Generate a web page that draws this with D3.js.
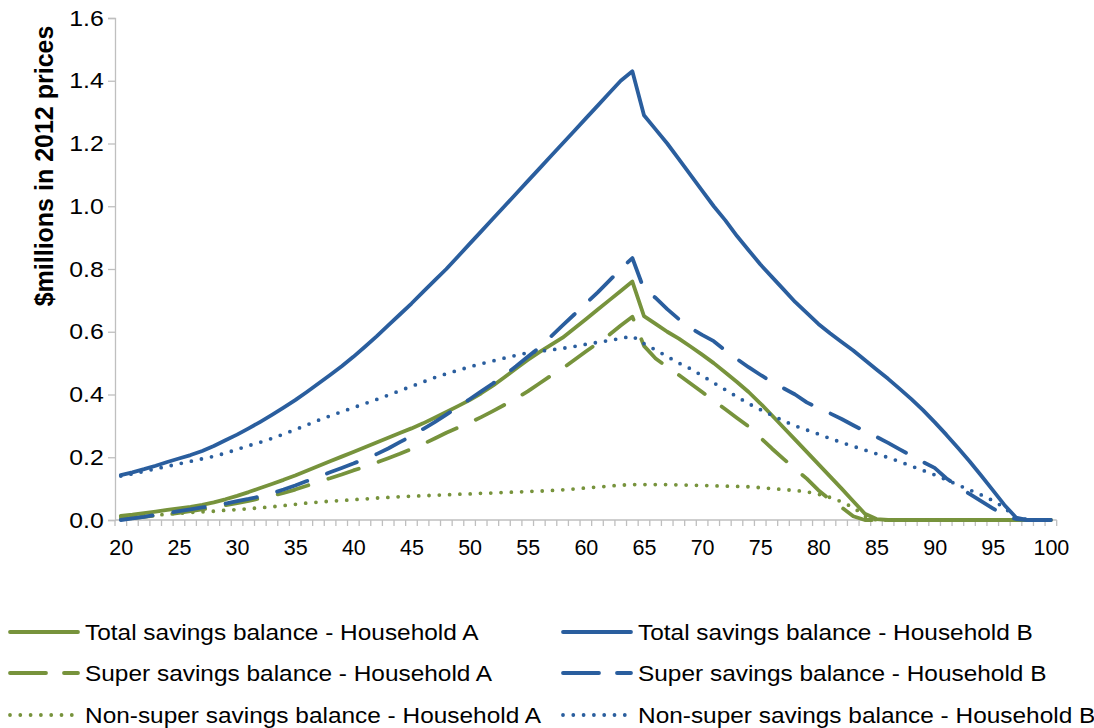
<!DOCTYPE html>
<html>
<head>
<meta charset="utf-8">
<script src="https://cdn.jsdelivr.net/npm/d3@7/dist/d3.min.js"></script>
<style>
  html, body { margin: 0; padding: 0; background: #fff; }
  svg { display: block; }
  text { font-family: "Liberation Sans", Arial, sans-serif; fill: #000; }
</style>
</head>
<body>
<svg id="chart" width="1094" height="728"></svg>
<script>
// ---- Data ----
const ages = d3.range(20, 101);
const xTickLabels = [20, 25, 30, 35, 40, 45, 50, 55, 60, 65, 70, 75, 80, 85, 90, 95, 100];
const yTicks = [0, 0.2, 0.4, 0.6, 0.8, 1.0, 1.2, 1.4, 1.6];
const yTitle = "$millions in 2012 prices";

const totalA = [0.013,0.017,0.022,0.027,0.032,0.037,0.042,0.048,0.056,0.066,
  0.077,0.089,0.102,0.115,0.128,0.142,0.157,0.172,0.187,0.202,
  0.217,0.232,0.247,0.262,0.277,0.292,0.308,0.326,0.344,0.363,
  0.382,0.404,0.428,0.455,0.483,0.51,0.535,0.558,0.581,0.61,
  0.64,0.67,0.70,0.73,0.76,0.65,0.625,0.60,0.578,0.553,
  0.527,0.50,0.47,0.44,0.408,0.372,0.334,0.295,0.256,0.217,
  0.178,0.139,0.10,0.06,0.02,0.003,0,0,0,0,
  0,0,0,0,0,0,0,0,0,0,0];
const superA = [0.003,0.006,0.01,0.014,0.018,0.023,0.028,0.034,0.04,0.047,
  0.054,0.061,0.069,0.077,0.086,0.097,0.109,0.122,0.133,0.145,
  0.158,0.17,0.183,0.197,0.211,0.226,0.242,0.26,0.278,0.294,
  0.31,0.328,0.347,0.367,0.388,0.41,0.435,0.46,0.483,0.51,
  0.537,0.563,0.59,0.62,0.648,0.555,0.515,0.488,0.462,0.435,
  0.408,0.38,0.353,0.325,0.298,0.263,0.228,0.195,0.163,0.132,
  0.095,0.065,0.04,0.012,0,0,0,0,0,0,
  0,0,0,0,0,0,0,0,0,0,0];
const nonSuperA = [0.01,0.012,0.014,0.016,0.018,0.021,0.024,0.026,0.028,0.031,
  0.033,0.036,0.039,0.042,0.046,0.05,0.054,0.057,0.06,0.062,
  0.065,0.067,0.07,0.072,0.074,0.076,0.077,0.079,0.08,0.082,
  0.083,0.085,0.086,0.088,0.089,0.091,0.092,0.094,0.096,0.099,
  0.102,0.105,0.108,0.111,0.113,0.113,0.113,0.113,0.112,0.111,
  0.11,0.109,0.108,0.107,0.106,0.103,0.10,0.097,0.094,0.09,
  0.082,0.072,0.058,0.04,0.012,0,0,0,0,0,
  0,0,0,0,0,0,0,0,0,0,0];
const totalB = [0.143,0.152,0.162,0.173,0.185,0.196,0.207,0.22,0.236,0.254,
  0.272,0.292,0.313,0.335,0.358,0.382,0.408,0.435,0.462,0.49,
  0.52,0.552,0.585,0.62,0.655,0.69,0.727,0.764,0.80,0.84,
  0.88,0.92,0.96,1.0,1.04,1.08,1.12,1.16,1.2,1.24,
  1.28,1.32,1.36,1.40,1.43,1.29,1.245,1.2,1.15,1.1,
  1.05,1.0,0.955,0.905,0.86,0.815,0.775,0.735,0.695,0.66,
  0.625,0.595,0.567,0.54,0.51,0.48,0.45,0.418,0.385,0.35,
  0.312,0.272,0.23,0.187,0.142,0.095,0.048,0.008,0,0,0];
const superB = [0.0,0.005,0.01,0.016,0.022,0.028,0.034,0.04,0.046,0.052,
  0.06,0.067,0.075,0.085,0.097,0.11,0.124,0.138,0.152,0.166,
  0.18,0.195,0.21,0.228,0.248,0.268,0.29,0.312,0.336,0.36,
  0.385,0.41,0.435,0.462,0.49,0.52,0.55,0.585,0.62,0.655,
  0.69,0.725,0.762,0.80,0.835,0.735,0.708,0.672,0.64,0.612,
  0.59,0.57,0.54,0.513,0.487,0.463,0.44,0.42,0.40,0.375,
  0.357,0.34,0.322,0.302,0.283,0.265,0.246,0.225,0.205,0.185,
  0.166,0.133,0.108,0.083,0.06,0.037,0.015,0.003,0,0,0];
const nonSuperB = [0.14,0.147,0.155,0.163,0.171,0.179,0.187,0.195,0.203,0.213,
  0.225,0.237,0.248,0.26,0.274,0.288,0.303,0.318,0.332,0.345,
  0.358,0.371,0.384,0.398,0.412,0.426,0.44,0.454,0.466,0.477,
  0.488,0.498,0.507,0.516,0.525,0.533,0.538,0.542,0.547,0.553,
  0.56,0.566,0.572,0.579,0.586,0.562,0.542,0.521,0.50,0.482,
  0.46,0.437,0.415,0.393,0.371,0.352,0.334,0.316,0.30,0.287,
  0.274,0.26,0.247,0.235,0.223,0.211,0.199,0.186,0.172,0.158,
  0.144,0.128,0.112,0.096,0.08,0.062,0.04,0.005,0.002,0,0];

const seriesNames = [
  "Total savings balance - Household A",
  "Super savings balance - Household A",
  "Non-super savings balance - Household A",
  "Total savings balance - Household B",
  "Super savings balance - Household B",
  "Non-super savings balance - Household B"
];
const seriesValues = [totalA, superA, nonSuperA, totalB, superB, nonSuperB];

// ---- Styles ----
const GREEN = "#77933c", BLUE = "#2a5e9e", AXIS = "#bfbfbf";
const styles = [
  {color: GREEN, dash: null},
  {color: GREEN, dash: "32,21"},
  {color: GREEN, dash: "0,10.3"},
  {color: BLUE, dash: null},
  {color: BLUE, dash: "32,21"},
  {color: BLUE, dash: "0,10.3"}
];
const LW = 3.8;

const svg = d3.select("#chart");
const x0 = 115, x1 = 1056.7, yTop = 18, yBot = 520;
const x = d3.scalePoint().domain(ages).range([x0, x1]).padding(0.5);
const xb = d3.scaleBand().domain(ages).range([x0, x1]);
const y = d3.scaleLinear().domain([0, 1.6]).range([yBot, yTop]);

// Y axis
const yAxis = svg.append("g").attr("transform", `translate(${x0},0)`)
  .call(d3.axisLeft(y).tickValues(yTicks).tickFormat(d3.format(".1f")).tickSize(7).tickPadding(5));
yAxis.select(".domain").attr("stroke", AXIS).attr("stroke-width", 1.3);
yAxis.selectAll(".tick line").attr("stroke", AXIS).attr("stroke-width", 1.3);
yAxis.selectAll(".tick text").style("font-size", "22px").attr("fill", "#000")
  .attr("x", -10).attr("transform", "scale(1.13,1)");

// X axis line and ticks at category boundaries
const xg = svg.append("g");
xg.append("line").attr("x1", x0).attr("x2", x1).attr("y1", yBot).attr("y2", yBot)
  .attr("stroke", AXIS).attr("stroke-width", 1.3);
const bounds = ages.map(a => xb(a)).concat([xb(ages[ages.length - 1]) + xb.bandwidth()]);
xg.selectAll("line.tk").data(bounds).enter().append("line").attr("class", "tk")
  .attr("x1", d => d).attr("x2", d => d).attr("y1", yBot).attr("y2", yBot + 6)
  .attr("stroke", AXIS).attr("stroke-width", 1.3);
const xAxis = svg.append("g").attr("transform", `translate(0,${yBot})`)
  .call(d3.axisBottom(x).tickValues(xTickLabels).tickSize(0).tickPadding(20));
xAxis.select(".domain").remove();
xAxis.selectAll(".tick text").style("font-size", "21.5px").attr("fill", "#000");

// Y title
svg.append("text")
  .attr("transform", "translate(44,166) rotate(-90)")
  .attr("text-anchor", "middle")
  .attr("dy", "0.35em")
  .style("font-size", "25px").style("font-weight", "bold")
  .text(yTitle);

// Lines
const line = d3.line().x((d, i) => x(ages[i])).y(d => y(d));
seriesValues.forEach((vals, i) => {
  svg.append("path").datum(vals)
    .attr("d", line)
    .attr("fill", "none")
    .attr("stroke", styles[i].color)
    .attr("stroke-width", LW)
    .attr("stroke-linecap", "round")
    .attr("stroke-linejoin", "round")
    .attr("stroke-dasharray", styles[i].dash);
});

// Legend
const legX = [10, 563], legY = [632, 673, 715];
seriesNames.forEach((name, i) => {
  const col = i < 3 ? 0 : 1, row = i % 3;
  const g = svg.append("g").attr("transform", `translate(${legX[col]},${legY[row]})`);
  g.append("line").attr("x1", 0).attr("x2", 68).attr("y1", 0).attr("y2", 0)
    .attr("stroke", styles[i].color).attr("stroke-width", LW)
    .attr("stroke-linecap", "round")
    .attr("stroke-dasharray", styles[i].dash ? (row === 1 ? "36,18" : styles[i].dash) : null);
  g.append("text").attr("transform", "translate(75,0) scale(1.11,1)").attr("dy", "0.35em")
    .style("font-size", "22px").text(name);
});
</script>
</body>
</html>
